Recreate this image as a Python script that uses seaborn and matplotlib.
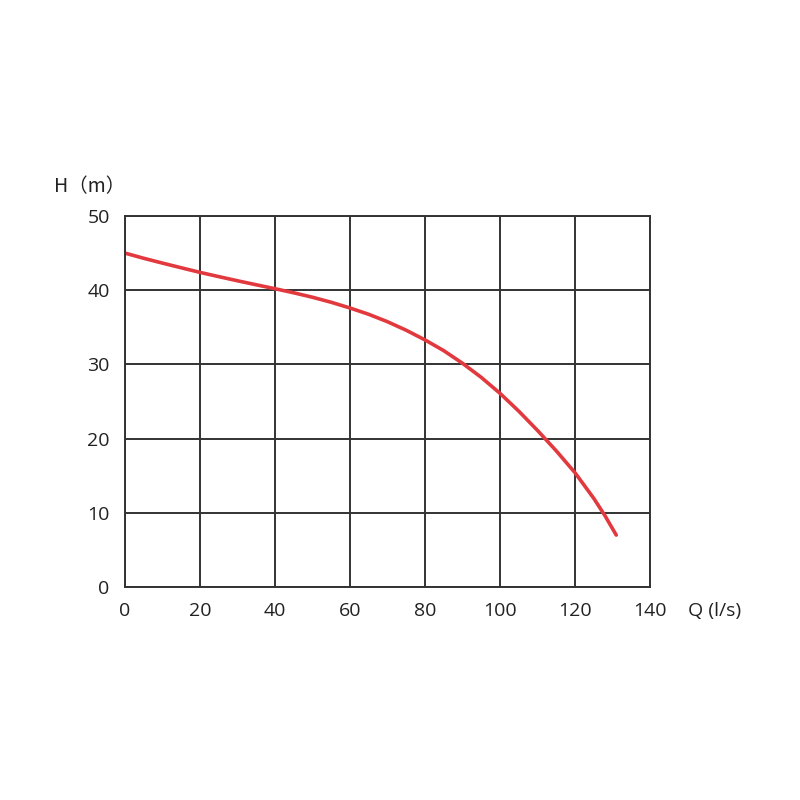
import pandas as pd
import matplotlib.pyplot as plt
import seaborn as sns

# =========================
# PUMP CURVE DATA
# =========================

flow = [0, 5, 10, 15, 20, 25, 30, 35, 40, 45, 50, 55, 60, 65, 70, 75, 80,
        85, 90, 95, 100, 105, 110, 115, 120, 125, 128, 131]
head = [45.0, 44.3, 43.65, 43.02, 42.4, 41.83, 41.27, 40.73, 40.2, 39.65,
        39.05, 38.37, 37.6, 36.75, 35.75, 34.6, 33.3, 31.85, 30.15, 28.25,
        26.1, 23.7, 21.1, 18.35, 15.4, 11.95, 9.6, 7.0]

x_ticks = [0, 20, 40, 60, 80, 100, 120, 140]
y_ticks = [0, 10, 20, 30, 40, 50]

data = pd.DataFrame({"Q": flow, "H": head})

# =========================
# PLOT
# =========================

sns.set_style("white")
plt.rcParams['font.family'] = ['Open Sans', 'DejaVu Sans']

fig = plt.figure(figsize=(8, 8), dpi=100)
ax = fig.add_axes([0.15625, 0.26625, 0.65625, 0.46375])

sns.lineplot(data=data, x="Q", y="H", ax=ax, color="#e2393f", linewidth=2.6)

ax.set_xlim(0, 140)
ax.set_ylim(0, 50)
ax.set_xticks(x_ticks)
ax.set_yticks(y_ticks)
ax.grid(True, color="#333333", linewidth=1.4)
ax.set_axisbelow(True)

for side in ax.spines.values():
    side.set_color("#333333")
    side.set_linewidth(1.4)

ax.tick_params(axis="both", length=0, labelsize=14, colors="#222222", pad=11)
ax.set_xlabel("")
ax.set_ylabel("")

ax.text(-0.135, 1.078, "H（m）", transform=ax.transAxes, fontsize=14,
        color="#222222", ha="left", va="center",
        family=['Noto Sans CJK SC', 'DejaVu Sans'])
ax.text(1.072, -0.065, "Q (l/s)", transform=ax.transAxes, fontsize=14,
        color="#222222", ha="left", va="center")

plt.savefig("out.png", dpi=100)
